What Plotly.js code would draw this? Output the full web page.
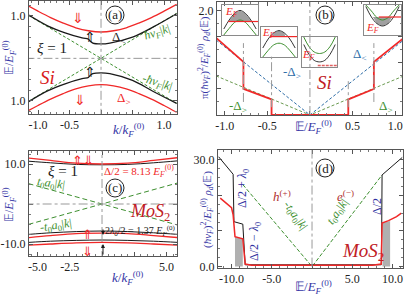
<!DOCTYPE html>
<html><head><meta charset="utf-8">
<script src="https://cdn.plot.ly/plotly-3.0.1.min.js"></script>
<style>html,body{margin:0;padding:0;background:#fff}#plot{width:407px;height:295px}</style>
</head><body><div id="plot"></div><script>
// ---------------- DATA ----------------
// Panel (a): Si, xi = 1
const aK      = [-1.15,-1.0,-0.8,-0.6,-0.4,-0.2,0,0.2,0.4,0.6,0.8,1.0,1.2];
const aRedUp  = [1.23,1.11,0.96,0.83,0.72,0.65,0.62,0.65,0.72,0.83,0.96,1.11,1.27];
const aRedDn  = [-1.23,-1.11,-0.96,-0.83,-0.72,-0.65,-0.62,-0.65,-0.72,-0.83,-0.96,-1.11,-1.27];
const aBK     = [-1.15,-0.84,-0.57,-0.30,-0.20,-0.17,-0.13,0,0.14,0.5,0.83,1.2];
const aBlkUp  = [1.02,0.76,0.60,0.48,0.45,0.40,0.36,0.34,0.36,0.50,0.74,1.05];
const aBlkDn  = [-1.02,-0.76,-0.60,-0.48,-0.45,-0.40,-0.36,-0.34,-0.36,-0.52,-0.78,-1.06];
const aGK     = [-1.15,0,1.2];
const aGrnUp  = [1.01,0,1.06];
const aGrnDn  = [-1.01,0,-1.06];
const aXTicks = [-1,-0.5,0,0.5,1];
const aXText  = ['-1.0','-0.5','','','1.0'];
const aYTicks = [-1,0,1];
const aYText  = ['1.0','','1.0'];

// Panel (b): Si density of states
const bX      = [-1.1,-0.78,-0.78,-0.45,-0.45,0.45,0.45,0.75,0.75,1.1];
const bRed    = [1.48,1.02,0.50,0.30,0,0,0.30,0.50,1.02,1.48];
const bLX     = [-1.1,0,1.1];
const bBlue   = [1.44,0,1.44];
const bGreen  = [0.75,0,0.75];
const bVX     = [-0.78,-0.45,0.45,0.75];
const bVLo    = [0.25,0.15,0.15,0.25];
const bVHi    = [1.38,1.12,0.65,1.38];
const bXTicks = [-1,-0.5,0,0.5,1];
const bXText  = ['-1.0','-0.5','','0.5','1.0'];
const bYTicks = [0,0.5,1,1.5,2];
const bYText  = ['','','','','2.0'];
// insets of (b)
const inX     = [-0.9,-0.6,-0.3,0,0.3,0.6,0.9];
const in1Blk  = [0.20,0.50,0.72,0.82,0.72,0.50,0.20];
const in1Grn  = [0.00,0.22,0.42,0.50,0.42,0.22,0.00];
const in1FX   = [-0.63,-0.3,0,0.3,0.63];
const in1FY   = [0.45,0.72,0.82,0.72,0.45];
const in1EF   = [0.45,0.45];
const in1EFX  = [-0.65,1.0];
const in2Blk  = [0.30,0.60,0.80,0.88,0.80,0.60,0.30];
const in2Grn  = [0.00,0.22,0.40,0.46,0.40,0.22,0.00];
const in2FX   = [-0.35,-0.3,0,0.3,0.35];
const in2FY   = [0.68,0.80,0.88,0.80,0.68];
const in2EFX  = [-0.5,1.0];
const in2EF   = [0.68,0.68];
const in3Grn  = [1.00,0.68,0.50,0.45,0.50,0.68,1.00];
const in3Blk  = [0.75,0.42,0.22,0.17,0.22,0.42,0.75];
const in3EFX  = [-0.1,1.0];
const in3EF   = [0.05,0.05];
const in4Blk  = [0.95,0.60,0.38,0.30,0.38,0.60,0.95];
const in4Grn  = [1.00,0.80,0.58,0.50,0.58,0.80,1.00];
const in4FX   = [-0.52,-0.3,0,0.3,0.52];
const in4FY   = [0.60,0.38,0.30,0.38,0.60];
const in4EFX  = [-0.2,1.0];
const in4EF   = [0.60,0.60];

// Panel (c): MoS2 bands
const cK       = [-5.7,-4,-2,0,2,4,5.9];
const cRedUp   = [11.5,10.9,10.2,10.0,10.2,10.9,11.6];
const cBlkUp   = [10.7,10.3,9.9,9.8,9.9,10.3,10.8];
const cBlkV1   = [-7.6,-7.2,-6.9,-6.75,-6.9,-7.2,-7.6];
const cRedV1   = [-8.4,-7.9,-7.4,-7.3,-7.4,-7.9,-8.4];
const cBlkV2   = [-9.6,-9.3,-9.1,-9.0,-9.1,-9.3,-9.6];
const cRedV2   = [-10.3,-10.0,-9.7,-9.6,-9.7,-10.0,-10.3];
const cGK      = [-5.7,0,5.9];
const cGrnUp   = [5.1,0,5.3];
const cGrnDn   = [-5.1,0,-5.3];
const cXTicks  = [-5,-2.5,0,2.5,5];
const cXText   = ['-5.0','-2.5','','','5.0'];
const cYTicks  = [-10,0,10];
const cYText   = ['-10.0','','10.0'];

// Panel (d): MoS2 density of states
const dBlkX  = [-11.6,-9.8,-9.7,-8.6,-8.3,8.6,8.66,8.7,11.2];
const dBlk   = [30.8,25.9,12.6,11.9,0.5,0.5,12.2,25.7,30.6];
const dRedX  = [-11.4,-10.0,-9.8,-9.57,-8.6,-8.3,-7.5,0,7.5,8.6,8.7,9.5,10.5,11.1];
const dRed   = [19.2,16.5,14.5,8.4,7.8,0.7,0.4,0.4,0.4,0.7,12.2,12.9,14.0,15.0];
const dGrnX  = [-8.6,0,8.7];
const dGrn   = [23.0,0,25.7];
const dGrayLX = [-9.57,-9.57,-8.6,-8.6];
const dGrayL  = [0,8.4,7.8,0];
const dGrayRX = [8.75,8.75,9.7,9.7];
const dGrayR  = [0,12.2,12.8,0];
const dXTicks = [-10,-5,0,5,10];
const dXText  = ['-10.0','-5.0','','5.0','10.0'];
const dYTicks = [0,10,20,30];
const dYText  = ['0.0','','','30.0'];

// ---------------- STYLE ----------------
const W=407, H=295;
const px = x => x/W, py = y => 1-y/H;
const RED='#f02828', BLK='#1a1a1a', GRN='#3d8f2f', BLU='#2f6ea8', ABL='#3535a5', GRY='#999999';
const FONT='Liberation Serif';

function ax(dom, range, tv, tt, extra){
  return Object.assign({domain:dom, range:range, showline:true, mirror:'ticks', linecolor:'#555', linewidth:1,
    ticks:'inside', ticklen:4, tickcolor:'#555', zeroline:false, showgrid:false, fixedrange:true,
    tickvals:tv, ticktext:tt, tickfont:{family:FONT,size:12,color:'#222'}}, extra||{});
}
function inax(dom){
  return {domain:dom, range:[-1,1], showline:true, mirror:true, linecolor:'#8a8a8a', linewidth:1.2,
    ticks:'', showticklabels:false, zeroline:false, showgrid:false, fixedrange:true};
}
function L(x,y,xa,ya,color,w,dash,extra){
  return Object.assign({x:x,y:y,xaxis:xa,yaxis:ya,mode:'lines',line:{color:color,width:w,dash:dash||'solid'},hoverinfo:'skip'},extra||{});
}
function S(x,y,xa,ya,color,w){
  return {x:x,y:y,xaxis:xa,yaxis:ya,mode:'lines',line:{color:color,width:w,shape:'spline'},hoverinfo:'skip'};
}
function T(x,y,text,size,color,extra){
  return Object.assign({x:px(x),y:py(y),xref:'paper',yref:'paper',text:text,showarrow:false,
    font:{family:FONT,size:size,color:color},xanchor:'center',yanchor:'middle'},extra||{});
}
function circ(x,y,r){
  return {type:'circle',xref:'paper',yref:'paper',x0:px(x-r),x1:px(x+r),y0:py(y+r),y1:py(y-r),line:{color:'#222',width:1}};
}
function vline(xa,ya,x,y0,y1,color,dash){
  return {type:'line',xref:xa,yref:ya,x0:x,x1:x,y0:y0,y1:y1,line:{color:color,width:1,dash:dash}};
}
function hline(xa,ya,y,x0,x1,color,dash){
  return {type:'line',xref:xa,yref:ya,x0:x0,x1:x1,y0:y,y1:y,line:{color:color,width:1,dash:dash}};
}

const traces = [
  // (a)
  L(aGK,aGrnUp,'x','y',GRN,1,'3px,2px'),
  L(aGK,aGrnDn,'x','y',GRN,1,'3px,2px'),
  S(aK,aRedUp,'x','y',RED,1.3),
  S(aK,aRedDn,'x','y',RED,1.3),
  S(aBK,aBlkUp,'x','y',BLK,1.3),
  S(aBK,aBlkDn,'x','y',BLK,1.3),
  // (b)
  L(bLX,bBlue,'x2','y2',BLU,1,'3px,2px'),
  L(bLX,bGreen,'x2','y2','#6a9a50',1,'3px,2px'),
  L(bX,bRed,'x2','y2',RED,1.8),
  // (b) insets
  {x:in1FX,y:in1FY,xaxis:'x5',yaxis:'y5',mode:'lines',fill:'toself',fillcolor:'#a0a0a0',line:{width:0},hoverinfo:'skip'},
  S(inX,in1Blk,'x5','y5','#333',1),
  S(inX,in1Grn,'x5','y5',GRN,1),
  L(in1EFX,in1EF,'x5','y5',RED,1.2),
  {x:in2FX,y:in2FY,xaxis:'x6',yaxis:'y6',mode:'lines',fill:'toself',fillcolor:'#a0a0a0',line:{width:0},hoverinfo:'skip'},
  S(inX,in2Blk,'x6','y6','#333',1),
  S(inX,in2Grn,'x6','y6',GRN,1),
  L(in2EFX,in2EF,'x6','y6',RED,1.2),
  S(inX,in3Grn,'x7','y7',GRN,1),
  S(inX,in3Blk,'x7','y7','#333',1),
  L(in3EFX,in3EF,'x7','y7','#e06060',1.5,'3px,1px'),
  {x:in4FX,y:in4FY,xaxis:'x8',yaxis:'y8',mode:'lines',fill:'toself',fillcolor:'#a0a0a0',line:{width:0},hoverinfo:'skip'},
  S(inX,in4Blk,'x8','y8','#333',1),
  S(inX,in4Grn,'x8','y8',GRN,1),
  L(in4EFX,in4EF,'x8','y8',RED,1.2),
  // (c)
  L(cGK,cGrnUp,'x3','y3',GRN,1,'5px,3px'),
  L(cGK,cGrnDn,'x3','y3',GRN,1,'5px,3px'),
  S(cK,cBlkUp,'x3','y3',BLK,1),
  S(cK,cRedUp,'x3','y3',RED,1.3),
  S(cK,cBlkV1,'x3','y3',BLK,1),
  S(cK,cRedV1,'x3','y3',RED,1.3),
  S(cK,cBlkV2,'x3','y3',BLK,1),
  S(cK,cRedV2,'x3','y3',RED,1.3),
  // (d)
  {x:dGrayLX,y:dGrayL,xaxis:'x4',yaxis:'y4',mode:'lines',fill:'toself',fillcolor:'#b0b0b0',line:{width:0},hoverinfo:'skip'},
  {x:dGrayRX,y:dGrayR,xaxis:'x4',yaxis:'y4',mode:'lines',fill:'toself',fillcolor:'#b0b0b0',line:{width:0},hoverinfo:'skip'},
  L(dGrnX,dGrn,'x4','y4',GRN,1,'4px,2px'),
  L(dBlkX,dBlk,'x4','y4',BLK,1),
  L(dRedX,dRed,'x4','y4',RED,1.5),
];

const shapes = [
  vline('x','y',0,-1.4,1.4,GRY,'dashdot'), hline('x','y',0,-1.2,1.25,GRY,'dashdot'),
  vline('x2','y2',0,0,2.2,GRY,'dashdot'),
  vline('x3','y3',0,-14,14,GRY,'dashdot'), hline('x3','y3',0,-6,6,GRY,'dashdot'),
  vline('x4','y4',0,0,33,GRY,'dashdot'),
  circ(115,15,9), circ(325,15,9), circ(115,188,9), circ(325,168,9)
];
bVX.forEach((v,i)=>shapes.push(vline('x2','y2',v,bVLo[i],bVHi[i],GRY,'dashdot')));

const annotations = [
  // (a)
  T(115,15,'(a)',13,'#222'),
  T(78,18,'⇓',14,RED), T(80,100,'⇓',14,RED),
  T(90,38,'⇑',14,BLK), T(90,72,'⇑',14,BLK),
  T(119,38,'Δ<sub><</sub>',13,BLK),
  T(157,33,'<i>ħv<sub>F</sub></i>|<i>k</i>|',12,GRN,{textangle:-18}),
  T(157,83,'-<i>ħv<sub>F</sub></i>|<i>k</i>|',12,GRN,{textangle:18}),
  T(52,48,'<i>ξ</i> = 1',15,BLK),
  T(47,77,'<i>Si</i>',19,'#d82020'),
  T(124,98,'Δ<sub>></sub>',13,RED),
  T(9,58,'𝔼/<i>E</i><sub><i>F</i></sub><sup>(0)</sup>',12,ABL,{textangle:-90}),
  T(128,130,'<i>k</i>/<i>k</i><sub><i>F</i></sub><sup>(0)</sup>',13,ABL),
  // (b)
  T(325,15,'(b)',13,'#222'),
  T(231,12,'<i>E<sub>F</sub></i>',11,RED), T(268,33,'<i>E<sub>F</sub></i>',11,RED),
  T(308,55,'<i>E<sub>F</sub></i>',11,RED), T(372,28,'<i>E<sub>F</sub></i>',11,RED),
  T(292,72,'-Δ<sub>></sub>',13,BLU), T(360,55,'Δ<sub><</sub>',13,BLU),
  T(324,82,'<i>Si</i>',19,'#c02025'),
  T(238,106,'-Δ<sub>></sub>',13,GRN), T(386,106,'Δ<sub>></sub>',13,GRN),
  T(204,58,'π(<i>ħv<sub>F</sub></i>)<sup>2</sup>/<i>E</i><sub><i>F</i></sub><sup>(0)</sup> <i>ρ<sub>d</sub></i>(𝔼)',11,ABL,{textangle:-90}),
  T(313,127,'𝔼/<i>E</i><sub><i>F</i></sub><sup>(0)</sup>',13,ABL),
  // (c)
  T(115,188,'(c)',13,'#222'),
  T(63,171,'<i>ξ</i> = 1',15,BLK),
  T(83,160,'⇑⇓',13,RED),
  T(139,171,'Δ/2 = 8.13 <i>E</i><sub><i>F</i></sub><sup>(0)</sup>',11,RED),
  T(51,184,'<i>t</i><sub>0</sub><i>a</i><sub>0</sub>|<i>k</i>|',12,GRN,{textangle:8}),
  T(56,226,'-<i>t</i><sub>0</sub><i>a</i><sub>0</sub>|<i>k</i>|',12,GRN,{textangle:-8}),
  T(150,212,'<i>MoS</i><sub>2</sub>',18,'#c02025'),
  T(140,231,'2<i>λ</i><sub>0</sub>/2 = 1.37 <i>E</i><sub><i>F</i></sub><sup>(0)</sup>',10,BLK),
  T(87,234,'⇑',13,RED), T(87,251,'⇓',13,RED),
  T(9,205,'𝔼/<i>E</i><sub><i>F</i></sub><sup>(0)</sup>',12,ABL,{textangle:-90}),
  T(127,278,'<i>k</i>/<i>k</i><sub><i>F</i></sub><sup>(0)</sup>',13,ABL),
  {x:px(103),y:py(235),ax:0,ay:-7,xref:'paper',yref:'paper',text:'',showarrow:true,arrowhead:2,arrowsize:0.8,arrowwidth:1,arrowcolor:BLK},
  {x:px(103),y:py(244),ax:0,ay:12,xref:'paper',yref:'paper',text:'',showarrow:true,arrowhead:2,arrowsize:0.8,arrowwidth:1,arrowcolor:BLK},
  // (d)
  T(325,168,'(d)',13,'#222'),
  T(282,196,'<i>h</i><sup>(+)</sup>',13,'#b03030'),
  T(345,196,'<i>e</i><sup>(−)</sup>',13,'#b03030'),
  T(243,189,'Δ/2 + <i>λ</i><sub>0</sub>',12,'#3030a0',{textangle:-90}),
  T(255,242,'Δ/2 − <i>λ</i><sub>0</sub>',12,'#3030a0',{textangle:-90}),
  T(295,216,'-<i>t</i><sub>0</sub><i>a</i><sub>0</sub>|<i>k</i>|',12,GRN,{textangle:55}),
  T(338,212,'<i>t</i><sub>0</sub><i>a</i><sub>0</sub>|<i>k</i>|',12,GRN,{textangle:-55}),
  T(377,207,'Δ/2',12,'#3030a0',{textangle:-90}),
  T(363,252,'<i>MoS</i><sub>2</sub>',19,'#c02025'),
  T(207,210,'(<i>ħv<sub>F</sub></i>)<sup>2</sup>/<i>E</i><sub><i>F</i></sub><sup>(0)</sup> <i>ρ<sub>d</sub></i>(𝔼)',11,ABL,{textangle:-90}),
  T(313,287,'𝔼/<i>E</i><sub><i>F</i></sub><sup>(0)</sup>',13,ABL),
];

const layout = {
  width:W, height:H, margin:{l:0,r:0,t:0,b:0}, paper_bgcolor:'#fff', plot_bgcolor:'rgba(0,0,0,0)', showlegend:false,
  font:{family:FONT},
  xaxis: ax([px(29),px(177)],[-1.143,1.206],aXTicks,aXText,{anchor:'y',minor:{ticks:'inside',ticklen:2,dtick:0.1,tickcolor:'#777'}}),
  yaxis: ax([py(114),py(1)],[-1.31,1.35],aYTicks,aYText,{anchor:'x',minor:{ticks:'inside',ticklen:2,dtick:0.25,tickcolor:'#777'}}),
  xaxis2: ax([px(217),px(402)],[-1.09,1.08],bXTicks,bXText,{anchor:'y2',minor:{ticks:'inside',ticklen:2,dtick:0.1,tickcolor:'#777'}}),
  yaxis2: ax([py(115),py(2)],[0,2.17],bYTicks,bYText,{anchor:'x2',minor:{ticks:'inside',ticklen:2,dtick:0.25,tickcolor:'#777'}}),
  xaxis3: ax([px(29),px(177)],[-5.66,5.81],cXTicks,cXText,{anchor:'y3',minor:{ticks:'inside',ticklen:2,dtick:0.5,tickcolor:'#777'}}),
  yaxis3: ax([py(256),py(151)],[-13,13.25],cYTicks,cYText,{anchor:'x3',minor:{ticks:'inside',ticklen:2,dtick:2.5,tickcolor:'#777'}}),
  xaxis4: ax([px(218),px(403)],[-11.68,11.3],dXTicks,dXText,{anchor:'y4',minor:{ticks:'inside',ticklen:2,dtick:1,tickcolor:'#777'}}),
  yaxis4: ax([py(268),py(150)],[-0.4,32.7],dYTicks,dYText,{anchor:'x4',minor:{ticks:'inside',ticklen:2,dtick:2.5,tickcolor:'#777'}}),
  xaxis5: inax([px(222),px(258)]), yaxis5: Object.assign(inax([py(35),py(5)]),{range:[0,1]}),
  xaxis6: inax([px(261),px(297)]), yaxis6: Object.assign(inax([py(57),py(27)]),{range:[0,1]}),
  xaxis7: inax([px(302),px(337)]), yaxis7: Object.assign(inax([py(67),py(37)]),{range:[0,1]}),
  xaxis8: inax([px(364),px(401)]), yaxis8: Object.assign(inax([py(35),py(5)]),{range:[0,1]}),
  shapes: shapes, annotations: annotations
};
['5','6','7','8'].forEach(n=>{layout['xaxis'+n].anchor='y'+n; layout['yaxis'+n].anchor='x'+n;});

Plotly.newPlot('plot', traces, layout, {staticPlot:true, displayModeBar:false});
</script></body></html>
